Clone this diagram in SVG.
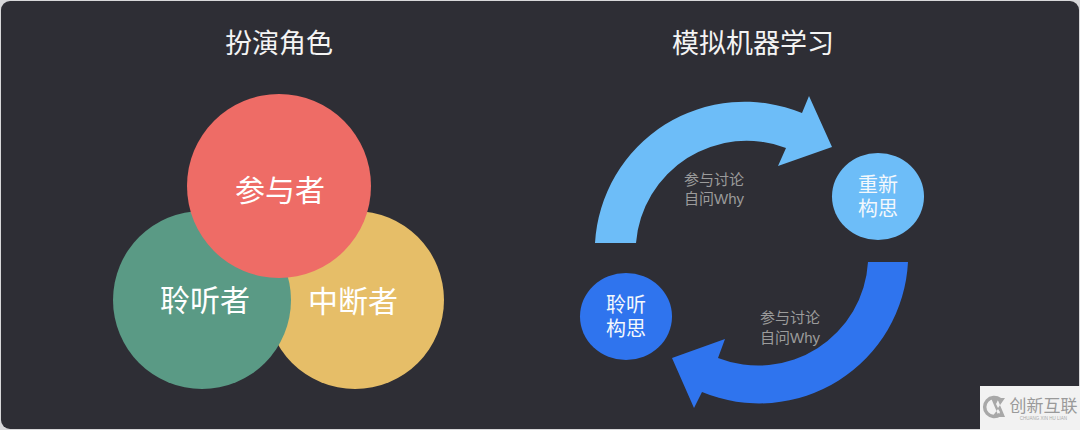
<svg xmlns="http://www.w3.org/2000/svg" width="1080" height="430" viewBox="0 0 1080 430">
<style>
text{font-family:"Liberation Sans","Noto Sans CJK SC",sans-serif;text-anchor:middle}
.t{font-size:27px;fill:#f4f4f4}
.v{font-size:30px;fill:#fff}
.n{font-size:20px;fill:#f4f8fc}
.s{font-size:15px;fill:#9b9b9b}
.wm{font-size:17px;fill:#9a9a9a}
.ws{font-size:4.500px;fill:#aaa}
</style>
<rect width="1080" height="430" fill="#d8d8da"/>
<rect x="1" y="1" width="1078" height="428" rx="9" fill="#2e2e35"/>
<text class="t" x="279" y="53">扮演角色</text>
<text class="t" x="753" y="53">模拟机器学习</text>
<g id="venn-yellow"><circle cx="355" cy="300" r="89" fill="#e6be68"/><text class="v" x="353" y="312">中断者</text></g>
<g id="venn-green"><circle cx="202" cy="300" r="89" fill="#5a9a85"/><text class="v" x="205" y="311">聆听者</text></g>
<g id="venn-red"><circle cx="279" cy="186" r="92" fill="#ee6c66"/><text class="v" x="280" y="201">参与者</text></g>
<g id="connectors">
<path id="arrow-top" d="M595 243A150 150 0 0 1 802 113L809 96L832 147L778 166L786 148A111 111 0 0 0 636 243Z" fill="#6dbdf8"/>
<path id="arrow-bottom" d="M908 262A149 149 0 0 1 702 392L694 408L672 358L725 339L718 358A110 110 0 0 0 868 262Z" fill="#2f74ee"/>
</g>
<g id="label-top"><text class="s" x="714" y="185">参与讨论</text><text class="s" x="714" y="204">自问Why</text></g>
<g id="label-bottom"><text class="s" x="790" y="323">参与讨论</text><text class="s" x="790" y="343">自问Why</text></g>
<g id="node-rethink"><ellipse cx="878" cy="196.500" rx="46" ry="43.500" fill="#6dbdf8"/><text class="n" x="878" y="192">重新</text><text class="n" x="878" y="216">构思</text></g>
<g id="node-listen"><ellipse cx="626" cy="316.500" rx="46" ry="43.500" fill="#2f74ee"/><text class="n" x="626" y="312">聆听</text><text class="n" x="626" y="336">构思</text></g>
<g id="watermark">
<rect x="980" y="386" width="100" height="44" fill="#f2f2f2"/>
<path d="M1000 399.500A9.500 9.500 0 1 0 1000 414.500" fill="none" stroke="#a8a8a8" stroke-width="3.500"/>
<path d="M991 398L997 398L1005 417L999 417ZM1005 398L999 398L996 404L998 408ZM992 417L998 417L1000 412L998 409Z" fill="#a8a8a8"/>
<text class="wm" x="1043.500" y="412">创新互联</text>
<text class="ws" x="1043.500" y="420">CHUANG XIN HU LIAN</text>
</g>
</svg>
